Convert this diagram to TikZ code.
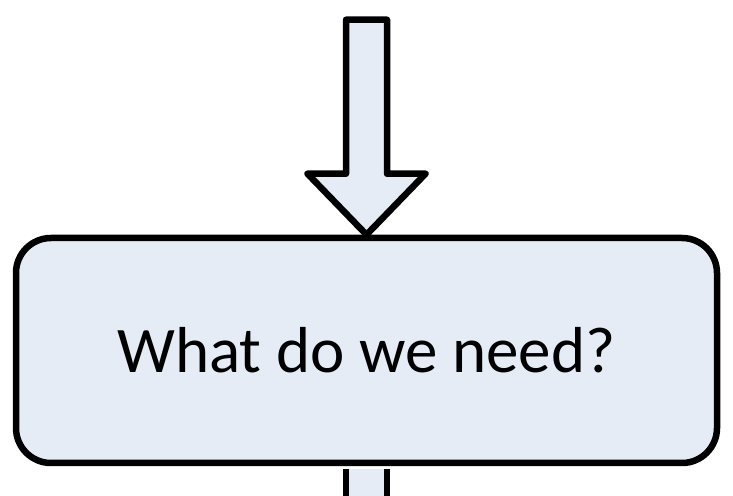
\documentclass[tikz,border=0pt]{standalone}
\usepackage{fontspec}
\setmainfont{Carlito}
\usetikzlibrary{positioning,calc}

\definecolor{boxfill}{RGB}{230,236,246}

\begin{document}
\begin{tikzpicture}[x=1pt, y=1pt,
  qbox/.style={draw, line width=6.5pt, fill=boxfill, rounded corners=35pt,
               minimum width=701pt, minimum height=225pt, inner sep=0pt,
               font=\fontsize{65}{70}\selectfont},
  blk/.style={draw, line width=6.5pt, fill=boxfill, line join=round},
  edge/.style={line width=6.5pt},
]
\clip (0,0) rectangle (733,495);
\node[qbox] (need) at (366.5,144.5) {What do we need?};
% arrow coming in
\coordinate (tip) at (need.north);
\draw[blk] (tip) -- ++(-59,61) -- ++(38.5,0) -- ++(0,154) -- ++(41,0)
  -- ++(0,-154) -- ++(38.5,0) -- cycle;
% arrow going out
\coordinate (out) at ($(need.south)+(0,-3)$);
\fill[boxfill] ($(out)+(-20.5,0)$) rectangle ($(out)+(20.5,-40)$);
\draw[edge] ($(out)+(-20.5,0)$) -- ++(0,-40) ($(out)+(20.5,0)$) -- ++(0,-40);
\end{tikzpicture}
\end{document}
